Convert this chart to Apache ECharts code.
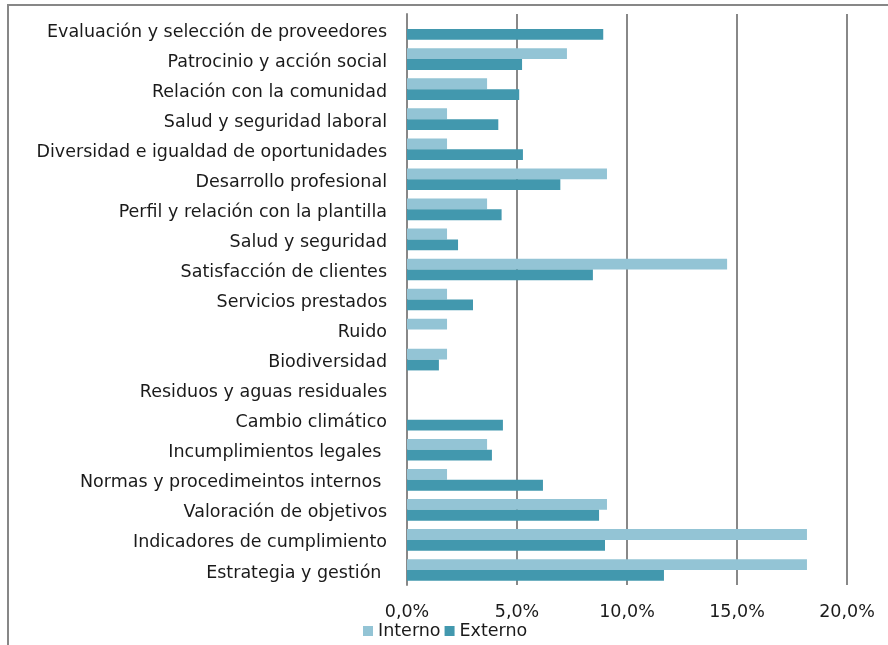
<!DOCTYPE html>
<html>
<head>
<meta charset="utf-8">
<script src="https://cdn.jsdelivr.net/npm/echarts@6/dist/echarts.min.js"></script>
<style>
  html, body { margin: 0; padding: 0; background: #fff; }
  #chart { width: 888px; height: 645px; }
</style>
</head>
<body>
<div id="chart"></div>
<script>
const categories = [
  'Evaluación y selección de proveedores',
  'Patrocinio y acción social',
  'Relación con la comunidad',
  'Salud y seguridad laboral',
  'Diversidad e igualdad de oportunidades',
  'Desarrollo profesional',
  'Perfil y relación con la plantilla',
  'Salud y seguridad',
  'Satisfacción de clientes',
  'Servicios prestados',
  'Ruido',
  'Biodiversidad',
  'Residuos y aguas residuales',
  'Cambio climático',
  'Incumplimientos legales ',
  'Normas y procedimeintos internos ',
  'Valoración de objetivos',
  'Indicadores de cumplimiento',
  'Estrategia y gestión '
]
const interno = [0, 7.27, 3.64, 1.82, 1.82, 9.09, 3.64, 1.82, 14.55, 1.82, 1.82, 1.82, 0, 0, 3.64, 1.82, 9.09, 18.18, 18.18]
const externo = [8.92, 5.23, 5.1, 4.15, 5.27, 6.97, 4.3, 2.32, 8.45, 3.0, 0, 1.45, 0, 4.36, 3.86, 6.18, 8.73, 9.0, 11.68]
const xTicks = [0, 5, 10, 15, 20]

const fmt = v => v.toFixed(1).replace('.', ',') + '%'

const chart = echarts.init(document.getElementById('chart'))
const font = 'DejaVu Sans, Verdana, sans-serif'
const fs = 17.5

const option = {
  animation: false,
  textStyle: { fontFamily: font },
  graphic: [
    {
      type: 'rect',
      shape: { x: 8, y: 5, width: 1000, height: 1000 },
      style: { fill: 'none', stroke: '#878787', lineWidth: 2 },
      silent: true
    }
  ],
  grid: { left: 407, right: 41, top: 14, bottom: 60 },
  legend: {
    left: 358,
    top: 617,
    icon: 'rect',
    itemWidth: 10,
    itemHeight: 10,
    itemGap: 4,
    textStyle: { fontSize: fs, color: '#1a1a1a', fontFamily: font },
    data: ['Interno', 'Externo']
  },
  xAxis: {
    type: 'value',
    min: xTicks[0],
    max: xTicks[xTicks.length - 1],
    interval: 5,
    axisLine: { show: false },
    axisTick: { show: false },
    axisLabel: { formatter: fmt, fontSize: fs, color: '#1a1a1a', margin: 18, fontFamily: font },
    splitLine: { show: true, lineStyle: { color: '#888', width: 2 } }
  },
  yAxis: {
    type: 'category',
    inverse: true,
    data: categories,
    axisLine: { show: true, lineStyle: { color: '#888', width: 2 } },
    axisTick: { show: false },
    axisLabel: {
      fontSize: fs, color: '#1a1a1a', margin: 20, fontFamily: font,
      verticalAlign: 'top', lineHeight: 6
    }
  },
  series: [
    {
      name: 'Interno',
      type: 'bar',
      data: interno,
      barWidth: '36%',
      barGap: '0%',
      itemStyle: { color: '#93c4d5' }
    },
    {
      name: 'Externo',
      type: 'bar',
      data: externo,
      barWidth: '36%',
      barGap: '0%',
      itemStyle: { color: '#4298ae' }
    }
  ]
}

chart.setOption(option)
</script>
</body>
</html>
